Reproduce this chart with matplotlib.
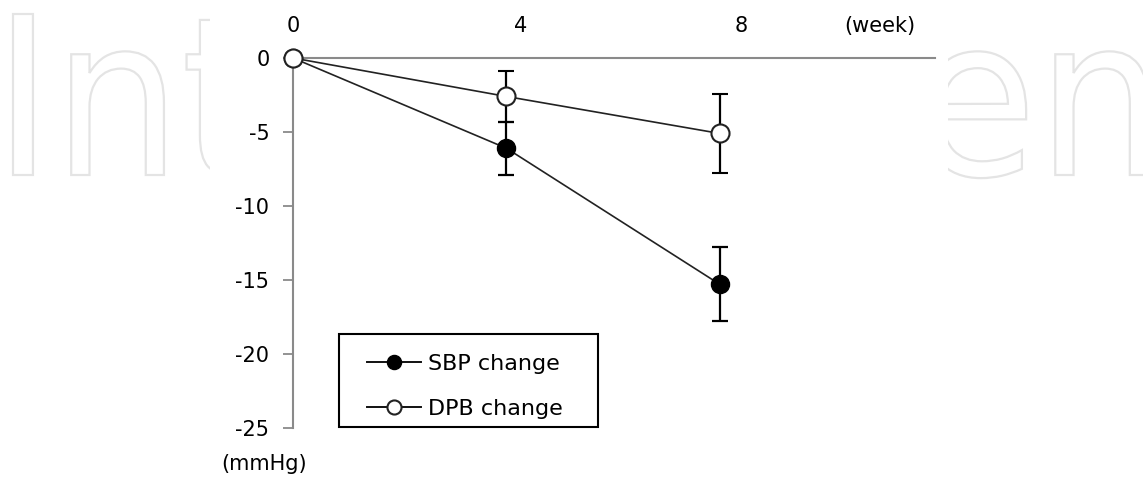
import matplotlib
matplotlib.use("Agg")
import matplotlib.pyplot as plt
from matplotlib.patches import Rectangle, PathPatch
from matplotlib.textpath import TextPath
from matplotlib.font_manager import FontProperties
from matplotlib.transforms import Affine2D

# data (change from baseline, mmHg)
weeks = [0, 4, 8]
sbp_change = [0.0, -6.1, -15.3]
sbp_err = [0.0, 1.8, 2.5]
dbp_change = [0.0, -2.6, -5.1]
dbp_err = [0.0, 1.7, 2.7]

week_labels = ["0", "4", "8"]
label_pos = [0, 4.27, 8.39]
y_ticks = [0, -5, -10, -15, -20, -25]

W, H = 1143, 484
fig = plt.figure(figsize=(W / 100, H / 100), dpi=100)

# faint outlined watermark, hidden behind the chart panel
prop = FontProperties(family="DejaVu Sans")
tp = TextPath((0, 0), "IntechOpen", size=1, prop=prop)
cap = TextPath((0, 0), "I", size=1, prop=prop).get_extents().y1
ext = tp.get_extents()
sx = 1135 / (ext.x1 - ext.x0)
sy = 161 / cap
wm = PathPatch(tp, facecolor="white", edgecolor="#e4e4e4", lw=1.6, zorder=0,
               transform=Affine2D().scale(sx, sy).translate(13 - ext.x0 * sx, H - 175))
fig.add_artist(wm)
fig.patches.append(Rectangle((210 / W, 0), (948 - 210) / W, 1,
                             transform=fig.transFigure, facecolor="white",
                             edgecolor="none", zorder=1))

ax = fig.add_axes([293 / W, 56 / H, 642 / W, 370 / H])
ax.set_zorder(2)
ax.patch.set_alpha(0)

fs = 15
sbp = ax.errorbar(weeks, sbp_change, yerr=sbp_err, fmt="-o", color="#222222",
                  lw=1.2, ecolor="black", elinewidth=1.6, capsize=5.5, capthick=1.6,
                  markersize=13, markerfacecolor="black", markeredgecolor="black",
                  zorder=3)
dbp = ax.errorbar(weeks, dbp_change, yerr=dbp_err, fmt="-o", color="#222222",
                  lw=1.2, ecolor="black", elinewidth=1.6, capsize=5.5, capthick=1.6,
                  markersize=13, markerfacecolor="white", markeredgecolor="#222222",
                  markeredgewidth=1.5, zorder=4)
for cont in (sbp, dbp):
    for art in cont.get_children():
        art.set_clip_on(False)

ax.set_xlim(0, 12.03)
ax.set_ylim(-25, 0)

for s in ["right", "bottom"]:
    ax.spines[s].set_visible(False)
for s in ["top", "left"]:
    ax.spines[s].set_color("#8a8a8a")
    ax.spines[s].set_linewidth(1.5)

ax.xaxis.tick_top()
ax.set_xticks(label_pos)
ax.set_xticklabels(week_labels)
ax.tick_params(axis="x", length=0, pad=16, labelsize=fs)
ax.set_yticks(y_ticks)
ax.set_yticklabels([str(v) for v in y_ticks])
ax.tick_params(axis="y", direction="out", length=7, width=1.3,
               color="#8a8a8a", pad=10, labelsize=fs)

fig.text(880 / W, 1 - 26 / H, "(week)", fontsize=fs, ha="center", va="center")
fig.text(264 / W, 1 - 464 / H, "(mmHg)", fontsize=fs, ha="center", va="center")

# legend: handles without error bars, box drawn separately
h1, = ax.plot([], [], "-o", color="#111111", lw=1.4, markersize=13,
              markerfacecolor="black", markeredgecolor="black")
h2, = ax.plot([], [], "-o", color="#111111", lw=1.4, markersize=13,
              markerfacecolor="white", markeredgecolor="#222222", markeredgewidth=1.5)
leg = ax.legend([h1, h2], ["SBP change", "DPB change"], loc="upper left",
                bbox_to_anchor=(0.115, 0.201), borderaxespad=0, borderpad=0,
                fontsize=16, frameon=False, handlelength=2.45, markerscale=0.78,
                labelspacing=1.15, handletextpad=0.3)
ax.add_patch(Rectangle((0.0717, 0.0027), 0.403, 0.251, transform=ax.transAxes,
                       facecolor="none", edgecolor="black", lw=1.5,
                       clip_on=False, zorder=5))

fig.savefig("out.png", dpi=100)
